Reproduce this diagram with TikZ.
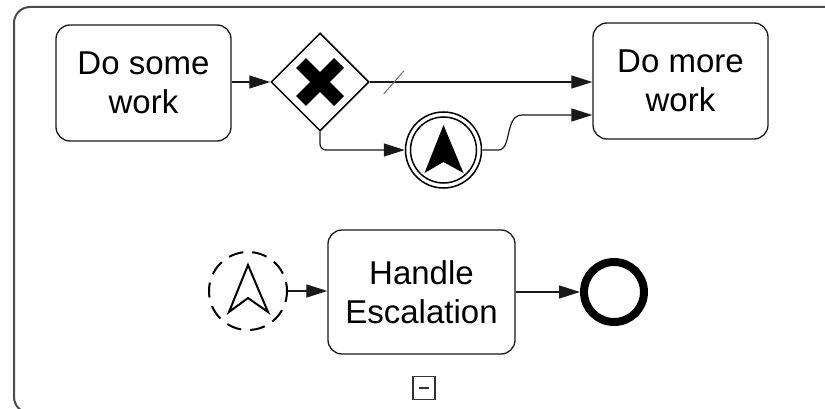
\documentclass[tikz,border=0pt]{standalone}
\usepackage{fontspec}
\setmainfont{Liberation Sans}
\usetikzlibrary{shapes.geometric,arrows.meta,calc}
\begin{document}
\begin{tikzpicture}[x=1pt,y=-1pt,
  taskbox/.style={draw=black!90,line width=1.3pt,rounded corners=14pt,align=center,inner sep=0pt,
    font=\fontsize{33}{39}\selectfont},
  flow/.style={draw=black!90,line width=1.2pt,-{Triangle[length=21pt,width=13pt]}},
  evt/.style={circle,draw=black,inner sep=0pt}]
\useasboundingbox (0,0) rectangle (825,409);
\begin{scope}
\clip (0,0) rectangle (825,409);
\draw[black!70,line width=2pt,rounded corners=16pt] (14,7) rectangle (845,413);
\end{scope}
% tasks
\node[taskbox,minimum width=175pt,minimum height=116pt] (t1) at (143.5,83) {Do some\\work};
\node[taskbox,minimum width=175pt,minimum height=116pt] (t2) at (680.5,81) {Do more\\work};
\node[taskbox,minimum width=187pt,minimum height=124pt] (t3) at (421.5,292) {Handle\\Escalation};
% gateway
\node[diamond,draw=black,line width=1.5pt,inner sep=0pt,minimum width=98pt,minimum height=98pt] (gw) at (320,82) {};
\draw[line width=14pt,black] ($(gw.center)+(-19,-19)$) -- ($(gw.center)+(19,19)$);
\draw[line width=14pt,black] ($(gw.center)+(-19,19)$) -- ($(gw.center)+(19,-19)$);
% intermediate escalation event
\node[evt,line width=1.5pt,minimum size=76pt] (ie) at (443.5,150) {};
\node[evt,line width=1.5pt,minimum size=66pt] (iein) at (443.5,150) {};
\fill[black] ($(ie.center)+(0,-25)$) -- ($(ie.center)+(-19,23)$) -- ($(ie.center)+(0,12)$) -- ($(ie.center)+(20,23)$) -- cycle;
% start escalation event (non-interrupting)
\node[evt,line width=2pt,dash pattern=on 15pt off 9pt,dash phase=6pt,minimum size=78pt] (es) at (248,291) {};
\draw[line width=2pt,line join=miter] ($(es.center)+(0,-26)$) -- ($(es.center)+(-19,21)$) -- ($(es.center)+(0,7)$) -- ($(es.center)+(20,21)$) -- cycle;
% end event
\node[evt,line width=8pt,minimum size=60pt] (ee) at (614,292) {};
% collapse marker
\node[draw=black!80,line width=1.2pt,minimum width=22pt,minimum height=23pt,inner sep=0pt] (cm) at (424,388) {};
\draw[black!80,line width=1.5pt] ($(cm.center)+(-5,0)$) -- ($(cm.center)+(5,0)$);
% flows
\draw[flow] (t1.east |- gw.west) -- (gw.west);
\draw[flow] (gw.east) -- (gw.east -| t2.west);
\draw[black!55,line width=1pt] ($(gw.east)+(14,12)$) -- ($(gw.east)+(34,-11)$);
\draw[flow,rounded corners=6pt] (gw.south) |- (ie.west);
\coordinate (t2in) at ($(t2.west)+(0,34)$);
\draw[flow] (ie.east) -- ($(ie.east)+(16,0)$) .. controls ($(ie.east)+(30,0)$) and ($(ie.east)+(22,-35)$) .. ($(ie.east)+(40,-35)$) -- (t2in);
\draw[flow] (es.east) -- (es.east -| t3.west);
\draw[flow] (t3.east |- ee.west) -- (ee.west);
\end{tikzpicture}
\end{document}
